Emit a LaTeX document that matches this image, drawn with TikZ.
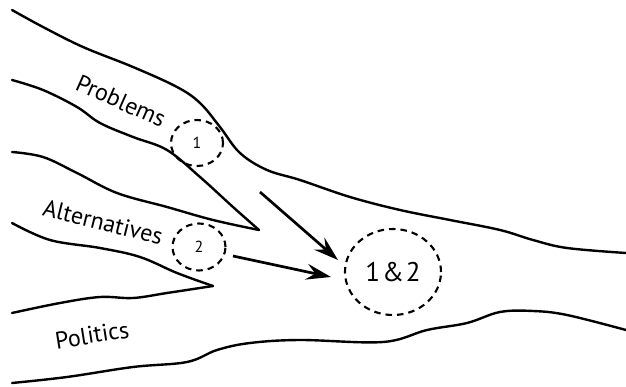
\documentclass[tikz,border=0pt]{standalone}
\usepackage{fontspec}
\setmainfont{PT Sans}
\usetikzlibrary{shapes.geometric,arrows.meta}
\begin{document}
\begin{tikzpicture}[x=1pt,y=-1pt,
  stream/.style={line width=2.4pt,line cap=round,line join=miter},
  pool/.style={ellipse,draw,line width=2.1pt,dash pattern=on 6.5pt off 5pt,inner sep=0pt},
  flow/.style={line width=2.7pt,-{Stealth[length=25pt,width=16pt,inset=9pt]}},
  lab/.style={font=\fontsize{24}{26}\selectfont}]
\useasboundingbox (0,0) rectangle (626,387);
% Problems top / main upper boundary
\draw[stream] plot[smooth,tension=0.6] coordinates {(12,10) (43,27) (83,47) (133,67) (177,87) (200,103) (220,127) (240,153) (267,170) (300,180) (350,197) (400,210) (450,220) (500,230) (533,240) (567,248) (626,253)};
% Problems lower / Alternatives upper wedge
\draw[stream] plot[smooth,tension=0.6] coordinates {(12,80) (43,90) (77,107) (100,123) (133,137) (167,150) (200,177) (233,207) (259,230)};
\draw[stream] plot[smooth,tension=0.6] coordinates {(12,152) (43,157) (77,173) (117,193) (167,207) (213,220) (259,230)};
% Alternatives lower / Politics upper wedge
\draw[stream] plot[smooth,tension=0.6] coordinates {(12,223) (50,240) (100,248) (140,257) (177,273) (213,286)};
\draw[stream] plot[smooth,tension=0.6] coordinates {(12,313) (60,303) (100,297) (133,298) (167,293) (213,286)};
% Politics lower / main bottom boundary
\draw[stream] plot[smooth,tension=0.6] coordinates {(12,383) (67,377) (133,367) (187,362) (217,350) (250,343) (300,340) (383,342) (427,330) (467,323) (500,312) (533,311) (567,315) (626,330)};
% labels
\node[lab,rotate=-24] (prob) at (121,101) {Problems};
\node[lab,rotate=-14] (alt) at (103,222) {Alternatives};
\node[lab,rotate=9] (pol) at (92,335) {Politics};
% pools
\node[pool,minimum width=52pt,minimum height=46pt,font=\fontsize{16}{17}\selectfont] (c1) at (197,143) {1};
\node[pool,minimum width=53pt,minimum height=47pt,font=\fontsize{16}{17}\selectfont] (c2) at (199,247) {2};
\node[pool,minimum width=96pt,minimum height=86pt,font=\fontsize{27}{28}\selectfont] (big) at (393,272) {1\kern2pt\&\kern2pt2};
% arrows
\coordinate (s1) at (260,192);
\coordinate (t1) at (338,260);
\coordinate (s2) at (233,256);
\coordinate (t2) at (331,277);
\draw[flow] (s1) -- (t1);
\draw[flow] (s2) -- (t2);
\end{tikzpicture}
\end{document}
